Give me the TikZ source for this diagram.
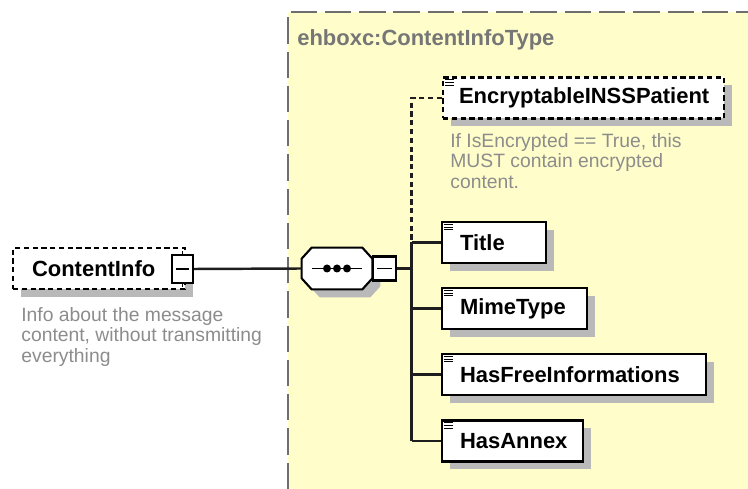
\documentclass[tikz,border=0pt]{standalone}
\usepackage{fontspec}
\setmainfont{Liberation Sans}
\usetikzlibrary{shadows}
\definecolor{schemayellow}{RGB}{255,254,202}
\definecolor{shadowgray}{RGB}{185,185,185}
\definecolor{desctext}{RGB}{140,140,140}
\definecolor{typetext}{RGB}{118,118,118}
\definecolor{bordergray}{RGB}{110,110,110}
\definecolor{linedark}{RGB}{30,30,30}
% octagon round a rectangular node
\newcommand{\octpath}[1]{([xshift=0.2cm]#1.north west) -- ([xshift=-0.2cm]#1.north east) -- ([yshift=-0.22cm]#1.north east) -- ([yshift=0.22cm]#1.south east) -- ([xshift=-0.2cm]#1.south east) -- ([xshift=0.2cm]#1.south west) -- ([yshift=0.22cm]#1.south west) -- ([yshift=-0.22cm]#1.north west) -- cycle}

\begin{document}
\begin{tikzpicture}[x=0.02cm, y=-0.02cm, %
    elem/.style={draw, line width=1.2pt, fill=white, minimum height=0.82cm, inner xsep=0pt, inner ysep=0pt, %
      align=left, font=\fontsize{12.5}{15}\selectfont\bfseries, %
      drop shadow={shadow xshift=0.16cm, shadow yshift=-0.16cm, fill=shadowgray, opacity=1}}, %
    opt/.style={dash pattern=on 3pt off 2pt}, %
    desc/.style={anchor=north west, inner sep=0pt, align=left, text=desctext, font=\fontsize{11}{11.6}\selectfont}, %
    conn/.style={line width=1.4pt, draw=linedark}, %
    minbox/.style={draw, line width=1.2pt, fill=white, inner sep=0pt}, %
  ]
  \useasboundingbox (0,0) rectangle (748,489);

  % complex type area
  \fill[schemayellow] (288,12) rectangle (748,489);
  \draw[bordergray, line width=1.1pt, dash pattern=on 15pt off 4.5pt] (288,489) -- (288,12) -- (748,12);
  \node[anchor=west, inner sep=0pt, text=typetext, font=\fontsize{12.5}{15}\selectfont\bfseries] (typename) at (297,40) {ehboxc:ContentInfoType};

  % root element
  \node[elem, opt, text width=3.44cm, anchor=west] (cinfo) at (12,268.5) {\hspace*{0.38cm}ContentInfo};
  \node[minbox, minimum width=0.42cm, minimum height=0.56cm] (cimin) at (182.5,269) {};
  \draw[line width=0.9pt] ([xshift=-0.13cm]cimin.center) -- ([xshift=0.13cm]cimin.center);
  \draw[line width=0.9pt] (cimin.north) -- ++(0,-3) (cimin.south) -- ++(0,3);
  \node[desc] (cidesc) at (21,307) {Info about the message\\content, without transmitting\\everything};

  % sequence compositor
  \node[minimum width=1.4cm, minimum height=0.82cm, inner sep=0pt] (seq) at (337,268.5) {};
  \begin{scope}[transform canvas={shift={(0.16cm,-0.16cm)}}]
    \fill[shadowgray] \octpath{seq};
  \end{scope}
  \draw[line width=1.2pt, fill=white] \octpath{seq};
  \draw[line width=1.1pt] ([xshift=-0.5cm]seq.center) -- ([xshift=0.5cm]seq.center);
  \foreach \dx in {-0.2,0,0.2}{ \fill ([xshift=\dx cm]seq.center) circle (0.08cm); }
  \node[minbox, minimum width=0.46cm, minimum height=0.48cm, anchor=west] (seqmin) at (seq.east) {};
  \draw[line width=0.9pt] ([xshift=-0.15cm]seqmin.center) -- ([xshift=0.15cm]seqmin.center);

  % child elements
  \node[elem, opt, text width=5.62cm, anchor=west] (encr) at (442,98) {\hspace*{0.32cm}EncryptableINSSPatient};
  \node[desc] (encrdesc) at (450,133) {If IsEncrypted == True, this\\MUST contain encrypted\\content.};

  \foreach \nm/\lab/\y/\w in { %
    title/Title/242.5/104, %
    mime/MimeType/308.5/145, %
    free/HasFreeInformations/374.5/264, %
    annex/HasAnnex/441/141%
  }{ %
    \pgfmathsetmacro\boxw{\w*0.02}
    \node[elem, text width=\boxw cm, anchor=west] (\nm) at (441,\y) {\hspace*{0.36cm}\lab};
  }

  \foreach \nm in {encr, title, mime, free, annex}{ %
    \foreach \k in {0,1,2}{ \draw[line width=0.6pt] ([xshift=0.06cm, yshift={-(0.07+0.055*\k)*1cm}]\nm.north west) -- ++(9,0); }
  }

  % connectors
  \coordinate (bus) at (411.5,268.5);
  \draw[conn] (cimin.east) -- (seq.west);
  \draw[conn] (seqmin.east) -- (bus);
  \draw[conn, opt] (encr.west) -- (encr.west -| bus) -- (title.west -| bus);
  \draw[conn] (title.west -| bus) -- (annex.west -| bus);
  \foreach \nm in {title, mime, free, annex}{ \draw[conn] (\nm.west -| bus) -- (\nm.west); }
\end{tikzpicture}
\end{document}
